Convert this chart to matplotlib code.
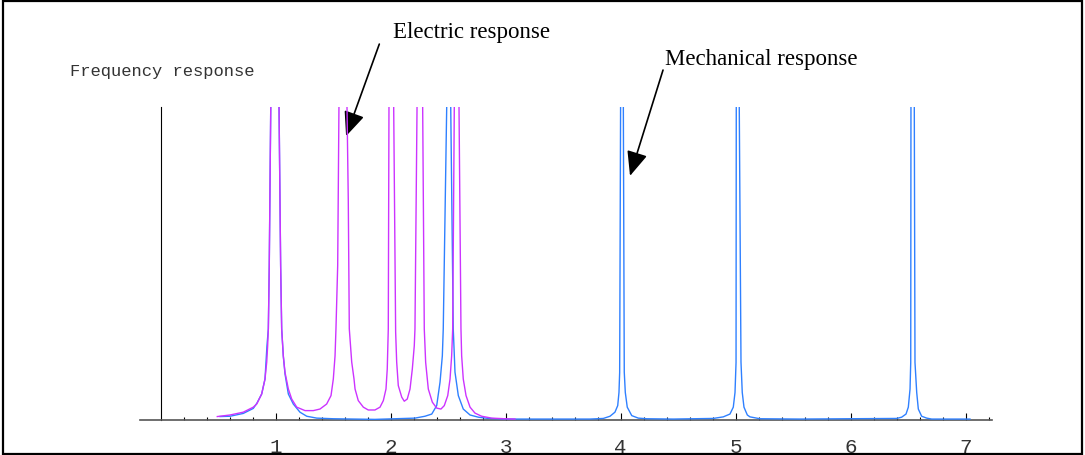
import numpy as np
import matplotlib
matplotlib.use('Agg')
import matplotlib.pyplot as plt
from matplotlib.patches import Rectangle
from matplotlib.ticker import FixedLocator, NullFormatter

# traced curves (x = frequency, y = response, 1.0 = top of plot, clipped above)
elec_x = [0.492, 0.603, 0.718, 0.805, 0.835, 0.878, 0.907, 0.922, 0.930, 0.936, 0.944, 0.957, 0.957,
          1.029, 1.029, 1.043, 1.052, 1.066, 1.081, 1.110, 1.139, 1.183, 1.255, 1.327, 1.385, 1.443,
          1.481, 1.501, 1.516, 1.524, 1.539, 1.550, 1.550,
          1.620, 1.620, 1.631, 1.640, 1.661, 1.681, 1.690, 1.718, 1.762, 1.805, 1.863, 1.907, 1.936,
          1.959, 1.970, 1.979, 1.985, 1.985,
          2.026, 2.026, 2.043, 2.052, 2.066, 2.096, 2.118, 2.144, 2.168, 2.188, 2.205, 2.211, 2.229, 2.229,
          2.278, 2.278, 2.292, 2.304, 2.327, 2.362, 2.400, 2.437, 2.466, 2.496, 2.516, 2.530, 2.539,
          2.553, 2.553,
          2.594, 2.594, 2.611, 2.617, 2.631, 2.655, 2.690, 2.733, 2.791, 2.878, 2.994, 3.081]
elec_y = [0.011, 0.016, 0.025, 0.041, 0.051, 0.083, 0.131, 0.185, 0.237, 0.291, 0.493, 1.0, 1.3,
          1.3, 1.0, 0.493, 0.291, 0.205, 0.152, 0.099, 0.067, 0.041, 0.030, 0.030, 0.035, 0.051,
          0.078, 0.131, 0.205, 0.291, 0.493, 1.0, 1.3,
          1.3, 1.0, 0.706, 0.291, 0.185, 0.131, 0.099, 0.062, 0.041, 0.032, 0.032, 0.041, 0.062,
          0.099, 0.163, 0.291, 1.0, 1.3,
          1.3, 1.0, 0.281, 0.185, 0.110, 0.073, 0.060, 0.067, 0.099, 0.163, 0.237, 0.291, 1.0, 1.3,
          1.3, 1.0, 0.291, 0.184, 0.099, 0.057, 0.038, 0.035, 0.046, 0.078, 0.131, 0.205, 0.291,
          1.0, 1.3,
          1.3, 1.0, 0.291, 0.205, 0.131, 0.078, 0.041, 0.022, 0.012, 0.006, 0.004, 0.003]

mech_x = [0.516, 0.603, 0.718, 0.805, 0.837, 0.878, 0.907, 0.924, 0.936, 0.944, 0.957, 0.957,
          1.029, 1.029, 1.043, 1.052, 1.066, 1.081, 1.110, 1.153, 1.211, 1.270, 1.357, 1.501, 1.863,
          2.037, 2.211, 2.298, 2.357, 2.400, 2.429, 2.449, 2.457, 2.487, 2.487,
          2.522, 2.522, 2.544, 2.559, 2.588, 2.631, 2.690, 2.762, 2.849, 2.994, 3.733,
          3.849, 3.907, 3.950, 3.974, 3.985, 3.991, 3.999, 3.999,
          4.023, 4.023, 4.031, 4.040, 4.057, 4.096, 4.153, 4.226, 4.457,
          4.805, 4.892, 4.950, 4.979, 4.994, 5.003, 5.005, 5.005,
          5.031, 5.031, 5.046, 5.057, 5.072, 5.101, 5.124, 5.211, 5.559,
          6.400, 6.443, 6.481, 6.501, 6.516, 6.522, 6.524, 6.524,
          6.553, 6.553, 6.559, 6.574, 6.588, 6.617, 6.661, 6.704, 7.037]
mech_y = [0.011, 0.012, 0.021, 0.037, 0.054, 0.083, 0.131, 0.237, 0.291, 0.493, 1.0, 1.3,
          1.3, 1.0, 0.493, 0.291, 0.205, 0.147, 0.083, 0.051, 0.025, 0.012, 0.006, 0.004, 0.002,
          0.004, 0.006, 0.012, 0.019, 0.046, 0.121, 0.205, 0.291, 1.0, 1.3,
          1.3, 1.0, 0.291, 0.153, 0.078, 0.035, 0.016, 0.009, 0.005, 0.003, 0.003,
          0.005, 0.012, 0.025, 0.046, 0.088, 0.152, 1.0, 1.3,
          1.3, 1.0, 0.153, 0.088, 0.041, 0.014, 0.006, 0.004, 0.003,
          0.005, 0.010, 0.019, 0.041, 0.088, 0.184, 1.0, 1.3,
          1.3, 1.0, 0.185, 0.088, 0.041, 0.016, 0.010, 0.004, 0.003,
          0.005, 0.009, 0.019, 0.041, 0.099, 0.184, 1.0, 1.3,
          1.3, 1.0, 0.184, 0.088, 0.035, 0.012, 0.006, 0.003, 0.003]

major_ticks = [1, 2, 3, 4, 5, 6, 7]
minor_ticks = [0.2, 0.4, 0.6, 0.8, 1.2, 1.4, 1.6, 1.8, 2.2, 2.4, 2.6, 2.8, 3.2, 3.4, 3.6, 3.8,
               4.2, 4.4, 4.6, 4.8, 5.2, 5.4, 5.6, 5.8, 6.2, 6.4, 6.6, 6.8, 7.2]

mono = 'Liberation Mono'
serif = 'Liberation Serif'

fig = plt.figure(figsize=(10.85, 4.56), dpi=100)
ax = fig.add_axes([0, 35 / 456, 1, 313 / 456])
ax.set_xlim(-160.7 / 115, (1085 - 160.7) / 115)
ax.set_ylim(0, 1)

ax.plot(mech_x, mech_y, color='#2f80ff', lw=1.0, zorder=3)
ax.plot(elec_x, elec_y, color='#cc33ff', lw=1.0, zorder=4)

# Mathematica style crossing axes
for s in ['top', 'right']:
    ax.spines[s].set_visible(False)
ax.spines['bottom'].set_position(('data', 0))
ax.spines['bottom'].set_bounds(-0.18, 7.23)
ax.spines['bottom'].set_color('#555555')
ax.spines['bottom'].set_linewidth(1.2)
ax.spines['left'].set_position(('data', 0))
ax.spines['left'].set_bounds(0, 1)
ax.spines['left'].set_linewidth(0.8)
ax.set_yticks([])

ax.xaxis.set_major_locator(FixedLocator(major_ticks))
ax.xaxis.set_minor_locator(FixedLocator(minor_ticks))
ax.xaxis.set_minor_formatter(NullFormatter())
ax.set_xticklabels([str(t) for t in major_ticks], fontfamily=mono, fontsize=15, color='#333333')
ax.tick_params(axis='x', which='major', direction='in', length=5, width=0.8, pad=12)
ax.tick_params(axis='x', which='minor', direction='in', length=2.5, width=0.8)

ax.text(-0.789, 1.102, 'Frequency response', fontfamily=mono, fontsize=12.3,
        color='#333333', va='baseline', ha='left')

ax.text(2.02, 1.224, 'Electric response', fontfamily=serif, fontsize=16.5, va='baseline', ha='left')
ax.text(4.385, 1.137, 'Mechanical response', fontfamily=serif, fontsize=16.5, va='baseline', ha='left')

arrow = dict(arrowstyle='-|>,head_length=0.75,head_width=0.32', mutation_scale=20,
             lw=1.2, color='black', shrinkA=0, shrinkB=0)
ax.annotate('', xy=(1.612, 0.907), xytext=(1.901, 1.201), arrowprops=arrow, annotation_clip=False)
ax.annotate('', xy=(4.081, 0.780), xytext=(4.368, 1.118), arrowprops=arrow, annotation_clip=False)

# frame around the whole picture
fig.patches.append(Rectangle((3 / 1085, 1 / 456), 1079 / 1085, 453 / 456, transform=fig.transFigure,
                             fill=False, edgecolor='black', lw=1.6))

plt.savefig('out.png', dpi=100)
